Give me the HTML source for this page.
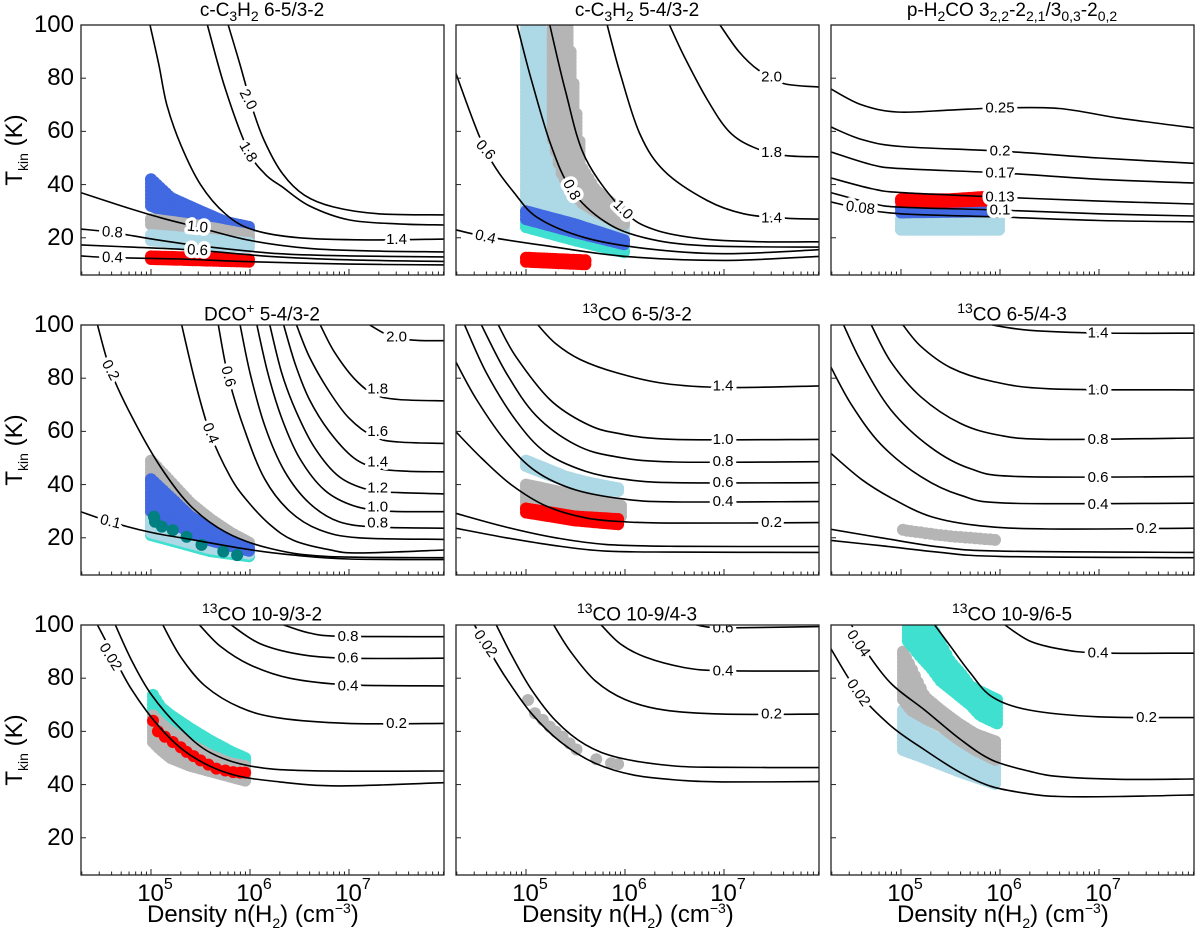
<!DOCTYPE html>
<html><head><meta charset="utf-8">
<style>
html,body{margin:0;padding:0;background:#fff;}
#wrap{position:relative;width:1200px;height:936px;overflow:hidden;font-family:"Liberation Sans","DejaVu Sans",sans-serif;color:#000;}
svg{position:absolute;left:0;top:0;}
.title{position:absolute;font-size:19px;white-space:nowrap;transform:translateX(-50%);}
.ytl{position:absolute;font-size:24px;text-align:right;width:64px;transform:translateY(-50%);}
.xtl{position:absolute;font-size:24px;transform:translateX(-50%);white-space:nowrap;}
.xtl sup{font-size:16px;position:relative;top:-3px;}
.axl{position:absolute;font-size:24px;white-space:nowrap;}
.ylab{position:absolute;font-size:24px;white-space:nowrap;transform:translate(-50%,-50%) rotate(-90deg);}
sub{font-size:14px;}
sup{font-size:14px;}
</style></head>
<body>
<div id="wrap">
<svg id="chart" width="1200" height="936"></svg>

<div class="title" style="left:262px;top:0px">c-C<sub>3</sub>H<sub>2</sub> 6-5/3-2</div>
<div class="title" style="left:637px;top:0px">c-C<sub>3</sub>H<sub>2</sub> 5-4/3-2</div>
<div class="title" style="left:1012px;top:0px">p-H<sub>2</sub>CO 3<sub>2,2</sub>-2<sub>2,1</sub>/3<sub>0,3</sub>-2<sub>0,2</sub></div>
<div class="title" style="left:262px;top:300px">DCO<sup>+</sup> 5-4/3-2</div>
<div class="title" style="left:637px;top:300px"><sup>13</sup>CO 6-5/3-2</div>
<div class="title" style="left:1012px;top:300px"><sup>13</sup>CO 6-5/4-3</div>
<div class="title" style="left:262px;top:600px"><sup>13</sup>CO 10-9/3-2</div>
<div class="title" style="left:637px;top:600px"><sup>13</sup>CO 10-9/4-3</div>
<div class="title" style="left:1012px;top:600px"><sup>13</sup>CO 10-9/6-5</div>

<div class="ylab" style="left:16px;top:150px">T<sub>kin</sub> (K)</div>
<div class="ylab" style="left:16px;top:450px">T<sub>kin</sub> (K)</div>
<div class="ylab" style="left:16px;top:750px">T<sub>kin</sub> (K)</div>

<div class="axl" style="left:147px;top:900px">Density n(H<sub>2</sub>) (cm<sup>−3</sup>)</div>
<div class="axl" style="left:522px;top:900px">Density n(H<sub>2</sub>) (cm<sup>−3</sup>)</div>
<div class="axl" style="left:897px;top:900px">Density n(H<sub>2</sub>) (cm<sup>−3</sup>)</div>
<div id="ticklabels"></div>
</div>

<script>
// ---- axis config ----
const xMinLog = 4.29, xMaxLog = 7.96, yMin = 6, yMax = 100;
const yTicks = [20, 40, 60, 80, 100];
const xDecades = [5, 6, 7];
const panelLefts = [81, 456, 831];
const panelTops = [25, 325, 625];

// ---- panel 1: c-C3H2 6-5/3-2 ----
const p1Curves = [
 [[5.78,100],[5.9,85],[6.03,68],[6.15,56],[6.33,44],[6.55,36],[6.84,31.6],[7.3,29],[7.96,28.6]],
 [[5.57,100],[5.75,76],[5.98,53],[6.15,44],[6.33,39],[6.6,32],[7.0,26.7],[7.5,25.2],[7.96,24.8]],
 [[4.99,100],[5.08,85],[5.16,70],[5.3,55],[5.5,40],[5.75,29],[6.03,23],[6.5,20],[7.2,19.2],[7.96,19.5]],
 [[4.29,37],[4.7,32],[5.1,27.5],[5.47,24],[6,19],[6.6,16],[7.3,15],[7.96,14.7]],
 [[4.29,23.3],[4.61,22],[5.1,19],[5.6,16.5],[6.3,14],[7.0,13.2],[7.96,12.8]],
 [[4.29,17.3],[4.8,16.5],[5.47,15.3],[6.2,13],[7.0,11.7],[7.96,11.1]],
 [[4.29,13.2],[4.61,12.5],[5.3,12],[6,11],[7.0,10.1],[7.96,9.8]]
];
const p1Labels = [["2.0",5.98,72,62],["1.8",5.98,52.3,60],["1.4",7.48,19.3,0],["1.0",5.47,24,6],["0.8",4.61,22,4],["0.6",5.47,15.3,3],["0.4",4.61,12.5,2]];
const p1Bands = [
 {color:"#4169e1", x:[5.0,5.2,5.5,5.75,6.0], lo:[32,29,26,24,23], hi:[42,35,30,26,24]},
 {color:"#b5b5b5", x:[5.0,5.5,6.0], lo:[25,22,20], hi:[27,24.5,21]},
 {color:"#add8e6", x:[5.0,5.5,6.0], lo:[19,17.5,16.5], hi:[21,19.5,18]},
 {color:"#ff0000", x:[5.0,5.5,6.0], lo:[12,11.5,11], hi:[13,12.5,11.8]}
];
const p1Dots = [];

// ---- panel 2: c-C3H2 5-4/3-2 ----
const p2Curves = [
 [[6.96,100],[7.15,90],[7.35,83],[7.6,78],[7.96,76.7]],
 [[6.45,100],[6.6,88],[6.83,72],[7.05,60],[7.3,54],[7.6,51],[7.96,50.4]],
 [[5.82,100],[5.95,82],[6.15,59],[6.4,45],[6.83,34],[7.2,29],[7.6,27.4],[7.96,27]],
 [[5.24,100],[5.4,75],[5.6,50],[5.98,30.4],[6.3,23],[6.8,19.5],[7.4,18.5],[7.96,18.5]],
 [[4.91,100],[5.05,80],[5.25,55],[5.46,38],[5.8,26],[6.2,20],[6.8,17],[7.96,16.5]],
 [[4.29,82],[4.59,53],[4.9,36],[5.14,27],[5.6,20],[6.2,16],[7,14],[7.96,15.5]],
 [[4.29,23],[4.59,20.5],[5.2,17],[6,13],[7,11.5],[7.96,13]]
];
const p2Labels = [["2.0",7.48,80.5,0],["1.8",7.48,52,0],["1.4",7.48,27.4,0],["1.0",5.98,30.5,45],["0.8",5.46,38,62],["0.6",4.59,53,48],["0.4",4.59,20.3,14]];
const p2Bands = [
 {color:"#add8e6", x:[5.0,5.1,5.2,5.3,5.4,5.5,5.6,5.8,6.0], lo:[30,29,28,27,26,25,24,22,21], hi:[102,102,95,70,55,45,38,30,25]},
 {color:"#b5b5b5", x:[5.27,5.35,5.42,5.5,5.57,5.7,5.8,5.9,6.0], lo:[57,45,40,36,33,30,28,26,25], hi:[102,102,102,70,46,38,35,32,29]},
 {color:"#40e0d0", x:[5.0,5.5,6.0], lo:[24,19,14.5], hi:[25.5,20,15]},
 {color:"#4169e1", x:[5.0,5.5,6.0], lo:[27,22,17.5], hi:[30,25,19]},
 {color:"#ff0000", x:[5.0,5.3,5.62], lo:[11,10.5,10], hi:[12.5,12,11.5]}
];
const p2Dots = [];

// ---- panel 3: p-H2CO ----
const p3Curves = [
 [[4.29,76],[4.6,70],[4.96,67.3],[5.5,68],[6.0,68.8],[6.6,68.6],[7.2,65],[7.96,61.3]],
 [[4.29,61.7],[4.6,57],[5.0,54.3],[6.0,52.6],[7,50],[7.96,48]],
 [[4.29,52.3],[4.7,47.5],[5.0,46],[6,44.4],[7,42],[7.96,40.6]],
 [[4.29,42.5],[4.7,38.5],[5,37],[6,35.3],[7,33.8],[7.96,32.7]],
 [[4.29,37],[4.7,33],[5,31.5],[6,30.4],[7,29],[7.96,28.2]],
 [[4.29,33.5],[4.59,31],[5,29],[6,27.8],[7,26.5],[7.96,26]]
];
const p3Labels = [["0.25",6.0,68.8,0],["0.2",6.0,52.6,0],["0.17",6.0,44.4,0],["0.13",6.0,35.3,0],["0.1",6.0,30.4,0],["0.08",4.59,31.2,7]];
const p3Bands = [
 {color:"#add8e6", x:[5.0,6.0], lo:[23,23], hi:[27,27]},
 {color:"#4169e1", x:[5.0,6.0], lo:[29.5,30], hi:[31.5,32]},
 {color:"#ff0000", x:[5.0,5.5,5.9], lo:[33.5,33.5,34], hi:[34.5,34.5,35.5]}
];
const p3Dots = [];

// ---- panel 4: DCO+ ----
const p4Curves = [
 [[7.21,100],[7.35,97],[7.5,95],[7.7,94.2],[7.96,94.1]],
 [[6.71,100],[6.85,90],[7.05,80],[7.25,74],[7.5,72],[7.96,71.5]],
 [[6.47,100],[6.6,88],[6.8,75],[7.0,65],[7.25,58],[7.5,56],[7.96,55.5]],
 [[6.34,100],[6.46,85],[6.6,72],[6.8,60],[7.05,50],[7.3,46],[7.6,45],[7.96,44.8]],
 [[6.2,100],[6.32,82],[6.46,68],[6.65,54],[6.9,43],[7.2,38],[7.5,37],[7.96,36.5]],
 [[6.07,100],[6.18,82],[6.32,65],[6.5,50],[6.75,38],[7.05,32],[7.4,30],[7.96,29.8]],
 [[5.9,100],[6.0,82],[6.15,62],[6.35,45],[6.6,33],[6.9,26],[7.3,24],[7.96,23.6]],
 [[5.68,100],[5.78,80.6],[5.95,60],[6.15,42],[6.4,30],[6.7,23],[7.1,20],[7.96,19.4]],
 [[5.31,100],[5.45,78],[5.6,59],[5.8,43],[5.97,34],[6.2,25],[6.44,19],[6.8,15.5],[7.1,14.3],[7.96,15.4]],
 [[4.46,100],[4.59,83],[4.8,66],[5.09,47],[5.4,32],[5.76,22],[6.2,16],[6.77,13],[7.96,12.5]],
 [[4.29,29.8],[4.59,26],[5,22],[5.43,19.2],[6,15.5],[6.44,13.5],[7,12],[7.96,11.8]]
];
const p4Labels = [["2.0",7.48,95.5,0],["1.8",7.29,75.9,0],["1.6",7.29,59.9,0],["1.4",7.29,48.5,0],["1.2",7.29,38.7,0],["1.0",7.29,31.6,0],["0.8",7.29,25.5,0],["0.6",5.78,80.6,75],["0.4",5.6,59.3,68],["0.2",4.59,83,62],["0.1",4.59,26,14]];
const p4Bands = [
 {color:"#b5b5b5", x:[5.0,5.2,5.4,5.6,5.8,6.0], lo:[22,20,17,15,14,13], hi:[49,41,33,27,22,18]},
 {color:"#40e0d0", x:[5.0,5.2,5.4,5.6,5.8,6.0], lo:[21,19,17,15,14,13], hi:[24,21,18,16,15,14]},
 {color:"#add8e6", x:[5.0,5.2,5.4,5.6,5.8,6.0], lo:[22,20,18,16,15,14], hi:[27,24,20,18,16,15]},
 {color:"#4169e1", x:[5.0,5.2,5.4,5.6,5.8,6.0], lo:[30,26,22,19,17,15], hi:[42,35,28,23,19,16]}
];
const p4Dots = [
 {color:"#008080", x:[5.03,5.04,5.11,5.22,5.36,5.51,5.73,5.87], t:[27.9,26,24.2,22.9,20.4,17.3,14.8,13.5]}
];

// ---- panel 5: 13CO 6-5/3-2 ----
const p5Curves = [
 [[5.12,100],[5.3,93],[5.55,87],[5.92,82],[6.4,78],[7,76.5],[7.96,77.1]],
 [[4.72,100],[4.9,88],[5.24,72],[5.6,63],[5.92,59.3],[6.5,57],[7.96,57]],
 [[4.55,100],[4.8,82],[5.1,66],[5.5,55],[5.9,50.5],[6.5,48.5],[7.96,48.6]],
 [[4.38,100],[4.6,82],[4.9,64],[5.2,52],[5.6,45],[6.0,42],[6.5,40.7],[7.96,40.7]],
 [[4.29,86.2],[4.5,72],[4.8,56],[5.1,45],[5.5,38],[6.0,34.5],[6.5,33.5],[7.96,33.6]],
 [[4.29,59.9],[4.55,50],[4.85,40],[5.2,32],[5.6,27.5],[6.0,26],[6.5,25.5],[7.96,25.7]],
 [[4.29,29.2],[4.8,24],[5.3,20],[5.8,17.5],[6.5,16.8],[7.96,16.7]],
 [[4.29,23.6],[4.8,20],[5.3,17],[5.8,15],[6.5,14.6],[7.96,14.5]]
];
const p5Labels = [["1.4",6.99,77,0],["1.0",6.99,57,0],["0.8",6.99,48.6,0],["0.6",6.99,40.7,0],["0.4",6.99,33.6,0],["0.2",7.48,25.7,0]];
const p5Bands = [
 {color:"#add8e6", x:[5.0,5.2,5.4,5.6,5.8,5.95], lo:[47,44,41.5,39.5,38,37.5], hi:[49,46,43,41,39.5,38.5]},
 {color:"#b5b5b5", x:[5.0,5.5,5.97], lo:[31,29,28], hi:[40,36,32]},
 {color:"#ff0000", x:[5.0,5.5,5.95], lo:[29.5,26.5,25], hi:[31,28,27]}
];
const p5Dots = [];

// ---- panel 6: 13CO 6-5/4-3 ----
const p6Curves = [
 [[5.92,100],[6.3,98],[6.99,97],[7.96,96.9]],
 [[5.02,100],[5.2,92],[5.5,84],[5.9,79],[6.5,76],[7.96,75.6]],
 [[4.70,100],[4.9,86],[5.2,73],[5.6,63],[6.0,58.5],[6.5,57],[7.96,57.5]],
 [[4.42,100],[4.6,86],[4.9,68],[5.3,54],[5.7,46],[6.2,43],[7.96,43]],
 [[4.29,84.3],[4.5,70],[4.8,55],[5.2,43],[5.6,36],[6.1,33],[7.96,33]],
 [[4.29,51.8],[4.6,42],[4.9,35],[5.3,28],[5.8,24.5],[6.5,23.3],[7.96,23.6]],
 [[4.29,23.2],[4.8,20],[5.4,16.5],[6,15],[7.96,14.5]],
 [[4.29,19],[4.8,17],[5.4,14.5],[6,13],[7.96,12.5]]
];
const p6Labels = [["1.4",6.99,96.9,0],["1.0",6.99,75.6,0],["0.8",6.99,57,0],["0.6",6.99,42.7,0],["0.4",6.99,32.6,0],["0.2",7.48,23.4,0]];
const p6Bands = [];
const p6Dots = [
 {color:"#b5b5b5", x:[5.02,5.06,5.1,5.15,5.2,5.25,5.3,5.35,5.4,5.45,5.5,5.55,5.6,5.65,5.7,5.75,5.8,5.85,5.9,5.95], t:[23,22.7,22.5,22.2,22,21.7,21.5,21.2,21,20.8,20.6,20.4,20.3,20.1,20,19.8,19.7,19.5,19.4,19.2]}
];

// ---- panel 7: 13CO 10-9/3-2 ----
const p7Curves = [
 [[6.34,100],[6.6,97],[6.9,95.8],[7.96,95.6]],
 [[5.81,100],[6.1,93],[6.5,89],[6.99,87.5],[7.96,87.5]],
 [[5.49,100],[5.7,92],[6.0,85],[6.4,80],[6.99,77.5],[7.96,77.1]],
 [[5.12,100],[5.3,88],[5.55,77],[5.9,69],[6.3,65],[6.99,63],[7.96,63]],
 [[4.64,100],[4.8,87],[5.0,74],[5.3,61],[5.6,52],[6.0,47],[6.6,45.2],[7.96,45.1]],
 [[4.46,100],[4.6,90],[4.8,76],[5.1,61],[5.4,51],[5.8,44],[6.3,41],[6.9,39.5],[7.96,40.7]]
];
const p7Labels = [["0.8",6.99,95.6,0],["0.6",6.99,87.5,0],["0.4",6.99,77.1,0],["0.2",7.48,63,0],["0.02",4.59,88,58]];
const p7Bands = [
 {color:"#40e0d0", x:[5.02,5.1,5.2,5.4,5.6,5.8,5.95], lo:[66,63,60,56,53,50,48], hi:[73.7,69,66,61,56.5,52.5,50]},
 {color:"#b5b5b5", x:[5.02,5.1,5.2,5.4,5.6,5.8,5.95], lo:[56,53,50,47,45,43,41.5], hi:[66,63,60,55,51,48,47]}
];
const p7Dots = [
 {color:"#ff0000", x:[5.02,5.07,5.14,5.22,5.3,5.36,5.43,5.5,5.58,5.66,5.75,5.83,5.9,5.95], t:[64,60,58,56,54,52.3,50.7,49.1,47.5,46,45.3,44.7,44.5,44.5]}
];

// ---- panel 8: 13CO 10-9/4-3 ----
const p8Curves = [
 [[6.72,100],[6.9,99],[7.2,99],[7.96,99.4]],
 [[5.76,100],[5.95,93],[6.2,88],[6.6,84],[6.99,82.8],[7.96,82.7]],
 [[5.28,100],[5.45,90],[5.7,79],[6.0,72],[6.4,68],[6.99,66.5],[7.96,66.5]],
 [[4.70,100],[4.85,89],[5.05,76],[5.3,64],[5.6,55],[5.95,50],[6.5,47],[7.0,46.5],[7.96,46.4]],
 [[4.48,100],[4.62,91],[4.8,80],[5.05,67],[5.35,56],[5.7,48],[6.1,43.5],[6.6,41.5],[7.0,41],[7.96,41.1]]
];
const p8Labels = [["0.6",6.99,98.8,0],["0.4",6.99,82.7,0],["0.2",7.48,66.5,0],["0.02",4.59,93,55]];
const p8Bands = [];
const p8Dots = [
 {color:"#b5b5b5", x:[5.02,5.09,5.17,5.24,5.3,5.37,5.44,5.51,5.71,5.86,5.93], t:[71.8,66.8,64.3,61.8,59.9,58,55.5,53.2,49.5,48,47.7]}
];

// ---- panel 9: 13CO 10-9/6-5 ----
const p9Curves = [
 [[6.05,100],[6.3,94],[6.6,91],[6.99,89.5],[7.96,89.4]],
 [[5.34,100],[5.5,92],[5.7,82],[5.92,73],[6.3,68],[6.99,65.5],[7.96,65.2]],
 [[4.50,100],[4.65,90],[4.9,78],[5.24,68],[5.6,57],[5.92,49.2],[6.3,45],[6.6,43],[7.2,42],[7.96,42.1]],
 [[4.29,91.2],[4.57,74.5],[4.9,62],[5.24,53],[5.6,44.5],[5.92,39.2],[6.3,36.5],[6.6,35.5],[7.2,35.5],[7.96,36.1]]
];
const p9Labels = [["0.4",6.99,89.4,0],["0.2",7.48,65.2,0],["0.04",4.57,93,55],["0.02",4.57,74.5,55]];
const p9Bands = [
 {color:"#add8e6", x:[5.02,5.24,5.58,5.97], lo:[53,50,45,40], hi:[68,60,53,47]},
 {color:"#b5b5b5", x:[5.02,5.1,5.24,5.4,5.58,5.75,5.97], lo:[72,68,65,62,57,53,49], hi:[90,84,73,68,63,59,56]},
 {color:"#40e0d0", x:[5.07,5.2,5.3,5.4,5.5,5.6,5.7,5.8,5.97], lo:[94,88,84,79,76,73,70,66,63], hi:[102,102,100,93,86,82,77,75,72]}
];
const p9Dots = [];

const panelCurves = [p1Curves,p2Curves,p3Curves,p4Curves,p5Curves,p6Curves,p7Curves,p8Curves,p9Curves];
const panelLabels = [p1Labels,p2Labels,p3Labels,p4Labels,p5Labels,p6Labels,p7Labels,p8Labels,p9Labels];
const panelBands = [p1Bands,p2Bands,p3Bands,p4Bands,p5Bands,p6Bands,p7Bands,p8Bands,p9Bands];
const panelDots = [p1Dots,p2Dots,p3Dots,p4Dots,p5Dots,p6Dots,p7Dots,p8Dots,p9Dots];

const W = 363, H = 250, R = 6;
const NS = "http://www.w3.org/2000/svg";
const svg = document.getElementById('chart');
function mk(tag, attrs, parent){const e=document.createElementNS(NS,tag);for(const k in attrs)e.setAttribute(k,attrs[k]);parent.appendChild(e);return e;}
function interp(xs, ys, x){
  if(x<=xs[0])return ys[0];
  for(let i=1;i<xs.length;i++){if(x<=xs[i]){const f=(x-xs[i-1])/(xs[i]-xs[i-1]);return ys[i-1]+f*(ys[i]-ys[i-1]);}}
  return ys[ys.length-1];
}
function smoothPath(pts){
  let d="M"+pts[0][0].toFixed(1)+","+pts[0][1].toFixed(1);
  for(let i=0;i<pts.length-1;i++){
    const p0=pts[Math.max(0,i-1)],p1=pts[i],p2=pts[i+1],p3=pts[Math.min(pts.length-1,i+2)];
    const c1=[p1[0]+(p2[0]-p0[0])/6,p1[1]+(p2[1]-p0[1])/6];
    const c2=[p2[0]-(p3[0]-p1[0])/6,p2[1]-(p3[1]-p1[1])/6];
    d+=" C"+c1[0].toFixed(1)+","+c1[1].toFixed(1)+" "+c2[0].toFixed(1)+","+c2[1].toFixed(1)+" "+p2[0].toFixed(1)+","+p2[1].toFixed(1);
  }
  return d;
}
const tl = document.getElementById('ticklabels');

for(let pi=0;pi<9;pi++){
  const col=pi%3,row=Math.floor(pi/3);
  const L=panelLefts[col],T0=panelTops[row];
  const X=lx=>L+70+(lx-5)*99;
  const Y=t=>T0+(yMax-t)*H/(yMax-yMin);
  const g=mk('g',{},svg);
  
  
  const clip=mk('clipPath',{id:'clip'+pi},g);
  mk('rect',{x:L,y:T0,width:W,height:H},clip);
  const plot=mk('g',{'clip-path':'url(#clip'+pi+')'},g);
  panelBands[pi].forEach(b=>{
    const bg=mk('g',{fill:b.color},plot);
    
    
    for(let lx=b.x[0];lx<=b.x[b.x.length-1]+1e-6;lx+=0.03){
      const lo=interp(b.x,b.lo,lx),hi=interp(b.x,b.hi,lx);
      for(let t=lo;t<=hi+1e-6;t+=1.4){mk('circle',{cx:X(lx).toFixed(1),cy:Y(t).toFixed(1),r:R},bg);}
      mk('circle',{cx:X(lx).toFixed(1),cy:Y(hi).toFixed(1),r:R},bg);
    }
  });
  panelDots[pi].forEach(s=>{
    const sg=mk('g',{fill:s.color},plot);
    
    
    s.x.forEach((lx,i)=>{const c=mk('circle',{cx:X(lx).toFixed(1),cy:Y(s.t[i]).toFixed(1),r:R},sg);
      
      });
  });
  panelCurves[pi].forEach(c=>{
    const p=mk('path',{d:smoothPath(c.map(q=>[X(q[0]),Y(q[1])])),fill:'none',stroke:'#000','stroke-width':1.6},plot);
    
    
  });
  panelLabels[pi].forEach(lb=>{
    const x=X(lb[1]).toFixed(1),y=Y(lb[2]).toFixed(1);
    const base={x:x,y:y,'font-size':15,'text-anchor':'middle','dominant-baseline':'central',transform:'rotate('+lb[3]+' '+x+' '+y+')','font-family':'Liberation Sans, DejaVu Sans, sans-serif'};
    const halo=mk('text',Object.assign({fill:'#fff',stroke:'#fff','stroke-width':7,'stroke-linejoin':'round'},base),plot);
    halo.textContent=lb[0];
    
    
    const t=mk('text',Object.assign({fill:'#000'},base),plot);
    t.textContent=lb[0];
    
    
  });
  const fr=mk('rect',{x:L,y:T0,width:W,height:H,fill:'none',stroke:'#222','stroke-width':1.3},g);
  
  
  yTicks.forEach(v=>{
    mk('line',{x1:L,x2:L+5,y1:Y(v),y2:Y(v),stroke:'#222','stroke-width':1},g);
    if(col===0){
      const d=document.createElement('div');d.className='ytl';d.style.left=(L-71)+'px';d.style.top=Y(v)+'px';d.textContent=v;
      
      
      tl.appendChild(d);
    }
  });
  for(let dec=4;dec<=7;dec++){
    for(let m=1;m<=9;m++){
      const lx=dec+Math.log10(m);
      if(lx<xMinLog||lx>xMaxLog)continue;
      const len=m===1?6:3.5;
      mk('line',{x1:X(lx),x2:X(lx),y1:T0+H,y2:T0+H-len,stroke:'#222','stroke-width':1},g);
    }
  }
  if(row===2){
    xDecades.forEach(dd=>{
      const d=document.createElement('div');d.className='xtl';d.style.left=(X(dd)+4)+'px';d.style.top=(T0+H+4)+'px';
      d.innerHTML='10<sup>'+dd+'</sup>';
      
      
      tl.appendChild(d);
    });
  }
}
</script>
</body></html>
